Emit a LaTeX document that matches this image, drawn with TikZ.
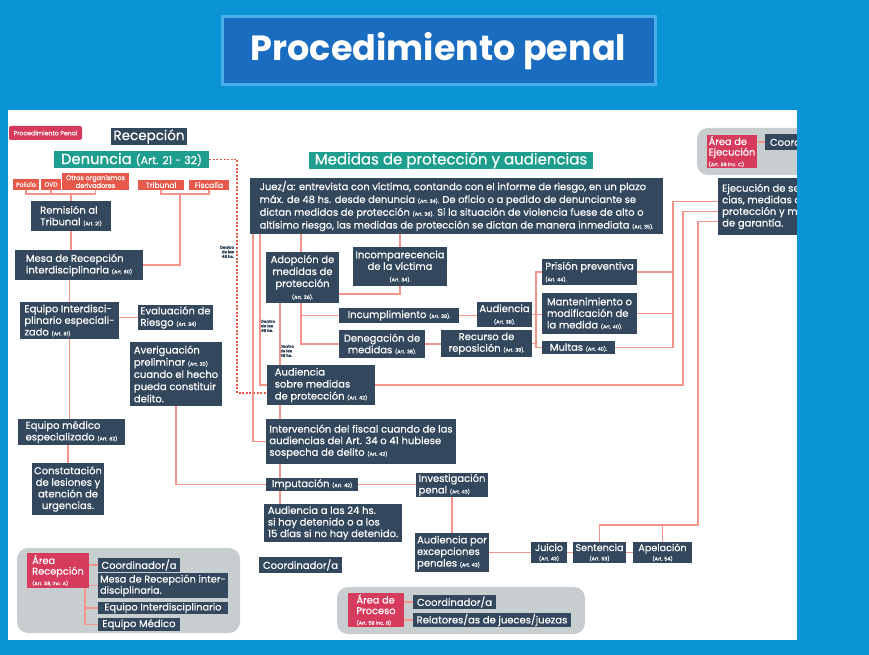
\documentclass[tikz,border=0pt]{standalone}
\usepackage{fontspec}
\setmainfont{Poppins}[FakeBold=0.4]
\newfontfamily\ttlfont{Poppins}
\usetikzlibrary{calc}
\definecolor{bgblue}{HTML}{0A94D6}
\definecolor{ttblue}{HTML}{1A6CC0}
\definecolor{ttedge}{HTML}{4AAEE8}
\definecolor{slate}{HTML}{33485C}
\definecolor{lnred}{HTML}{F4948A}
\definecolor{tagred}{HTML}{E5584A}
\definecolor{crim}{HTML}{D63A5C}
\definecolor{tealc}{HTML}{1E9E8E}
\definecolor{areagrey}{HTML}{C8CDD0}
\newcommand\fsz[2]{\fontsize{#1}{#2}\selectfont}
\newcommand\art[1]{{\fontsize{4.9}{5}\selectfont #1}}
\newcommand\mybox[7][]{%
  \pgfmathsetmacro\qw{#5-#3}%
  \pgfmathsetmacro\qh{#6-#4}%
  \node[box,minimum width=\qw pt,minimum height=\qh pt,#1] (#2) at ({(#3+#5)/2},{(#4+#6)/2}) {#7};}
\tikzset{
 box/.style={fill=slate,text=white,inner xsep=2pt,inner ysep=1pt,align=left,font=\fsz{10}{11.6}},
 redtag/.style={fill=tagred,font=\fsz{6}{6.4},align=center,inner xsep=1pt},
 crimbox/.style={fill=crim,font=\fsz{9.8}{10.6}},
 tealbox/.style={fill=tealc},
 area/.style={fill=areagrey,rounded corners=11pt},
 ln/.style={draw=lnred,line width=1.3pt},
 dsh/.style={draw=tagred,line width=1.1pt,dash pattern=on 2pt off 1.6pt},
 lbl/.style={font=\bfseries\fsz{4}{4.6},text=slate,inner sep=0pt}
}
\begin{document}
\begin{tikzpicture}[x=1pt,y=-1pt]
\useasboundingbox (0,0) rectangle (869,655);
\fill[bgblue] (0,0) rectangle (869,655);
\fill[white] (8,110) rectangle (797,640);
% title
\node[fill=ttblue,draw=ttedge,line width=3pt,minimum width=433pt,minimum height=68pt,text=white,font=\ttlfont\bfseries\fsz{35}{37}] (title) at (438.5,51) {Procedimiento penal};
% grey areas
\mybox[area]{areaE}{697}{128}{880}{175}{}
\mybox[area]{areaR}{17}{548}{240}{633}{}
\mybox[area]{areaP}{337}{587}{585}{634}{}
% header tags
\mybox[fill=crim,rounded corners=2pt,align=center,font=\fsz{6.2}{6.4}]{tag}{9}{126}{82}{140}{Procedimiento Penal}
\mybox[align=center,font=\fsz{13.5}{15}]{recep}{111}{128}{187}{145}{Recepción}
\mybox[tealbox,align=center,font=\fsz{14.8}{16}]{denuncia}{54}{151}{209}{168}{Denuncia {\fsz{11}{12}(Art. 21 - 32)}}
\mybox[tealbox,align=center,font=\fsz{15}{16}]{medidas}{309}{152}{593}{169}{Medidas de protección y audiencias}
% red tags
\mybox[redtag]{policia}{13}{179}{39}{190}{Policía}
\mybox[redtag]{ovd}{41}{179}{61}{190}{OVD}
\mybox[redtag,font=\fsz{6.6}{6.8}]{otros}{62}{173}{129}{190}{Otros organismos\\derivadores}
\mybox[redtag,font=\fsz{7.6}{8}]{tribunal}{138}{180}{184}{190}{Tribunal}
\mybox[redtag,font=\fsz{7.6}{8}]{fiscalia}{189}{180}{229}{190}{Fiscalía}
% left column
\mybox{remision}{31}{201}{111}{231}{Remisión al\\Tribunal \art{(Art. 21)}}
\mybox{mesa}{15}{250}{143}{280}{Mesa de Recepción\\interdisciplinaria \art{(Art. 60)}}
\mybox{eqint}{20}{302}{119}{339}{Equipo Interdisci-\\plinario especiali-\\zado \art{(Art. 61)}}
\mybox{evalr}{138}{305}{213}{330}{Evaluación de\\Riesgo \art{(Art. 34)}}
\mybox[font=\fsz{10}{12.2}]{aver}{130}{342}{222}{406}{Averiguación\\preliminar \art{(Art. 30)}\\cuando el hecho\\pueda constituir\\delito.}
\mybox{eqmed}{18}{419}{125}{445}{Equipo médico\\especializado \art{(Art. 62)}}
\mybox[align=center]{const}{32}{463}{104}{515}{Constatación\\de lesiones y\\atención de\\urgencias.}
% center
\mybox[font=\fsz{9.9}{12.8}]{juez}{250}{178}{663}{234}{Juez/a: entrevista con víctima, contando con el informe de riesgo, en un plazo\\máx. de 48 hs. desde denuncia \art{(Art. 34).} De oficio o a pedido de denunciante se\\dictan medidas de protección \art{(Art. 36).} Si la situación de violencia fuese de alto o\\altísimo riesgo, las medidas de protección se dictan de manera inmediata \art{(Art. 35).}}
\mybox[align=center,font=\fsz{10}{12}]{adop}{266}{252}{339}{303}{Adopción de\\medidas de\\protección\\\art{(Art. 36).}}
\mybox[align=center]{incomp}{356}{247}{444}{286}{Incomparecencia\\de la víctima\\\art{(Art. 34).}}
\mybox{incump}{339}{308}{459}{323}{Incumplimiento \art{(Art. 39).}}
\mybox[align=center]{deneg}{339}{330}{425}{358}{Denegación de\\medidas \art{(Art. 38).}}
\mybox[align=center]{audi39}{477}{302}{532}{327}{Audiencia\\\art{(Art. 39).}}
\mybox[align=center]{recurso}{441}{330}{532}{357}{Recurso de\\reposición \art{(Art. 39).}}
\mybox{prision}{542}{259}{637}{285}{Prisión preventiva\\\art{(Art. 44).}}
\mybox{mant}{542}{293}{637}{334}{Mantenimiento o\\modificación de\\la medida \art{(Art. 40).}}
\mybox{multas}{542}{341}{615}{354}{Multas \art{(Art. 40).}}
\mybox[font=\fsz{10}{12}]{audsm}{267}{365}{375}{405}{Audiencia\\sobre medidas\\de protección \art{(Art. 42)}}
\mybox{interv}{266}{419}{456}{464}{Intervención del fiscal cuando de las\\audiencias del Art. 34 o 41 hubiese\\sospecha de delito \art{(Art. 42)}}
\mybox{imput}{266}{479}{358}{490}{Imputación \art{(Art. 42)}}
\mybox{aud24}{264}{504}{402}{542}{Audiencia a las 24 hs.\\si hay detenido o a los\\15 días si no hay detenido.}
\mybox{invest}{416}{473}{488}{497}{Investigación\\penal \art{(Art. 43)}}
\mybox{audexc}{416}{533}{488}{572}{Audiencia por\\excepciones\\penales \art{(Art. 43)}}
\mybox{coord}{259}{557}{342}{573}{Coordinador/a}
\mybox[align=center,font=\fsz{9.6}{9.4}]{juicio}{531}{542}{567}{563}{Juicio\\\art{(Art. 43)}}
\mybox[align=center,font=\fsz{9.6}{9.4}]{sent}{573}{542}{626}{563}{Sentencia\\\art{(Art. 53)}}
\mybox[align=center,font=\fsz{9.6}{9.4}]{apel}{633}{542}{692}{563}{Apelación\\\art{(Art. 54)}}
% right
\mybox{ejec}{718}{178}{836}{235}{Ejecución de senten-\\cias, medidas de\\protección y medidas\\de garantía.}
\mybox[crimbox]{redE}{707}{135}{757}{168}{Área de\\Ejecución\\\art{(Art. 59 inc. C)}}
\mybox{coE}{765}{134}{850}{150}{Coordinador/a}
% area recepcion
\mybox[crimbox]{redR}{27}{553}{89}{588}{Área\\Recepción\\\art{(Art. 59, inc. A)}}
\mybox{coR}{98}{558}{180}{572}{Coordinador/a}
\mybox[font=\fsz{9.8}{11.2}]{mesaR}{98}{573}{228}{598}{Mesa de Recepción inter-\\disciplinaria.}
\mybox[font=\fsz{9.8}{11}]{eqR}{98}{602}{228}{614}{Equipo Interdisciplinario}
\mybox{medR}{98}{618}{180}{631}{Equipo Médico}
% area proceso
\mybox[crimbox]{redP}{348}{593}{404}{627}{Área de\\Proceso\\\art{(Art. 59 inc. B)}}
\mybox{coP}{413}{595}{496}{609}{Coordinador/a}
\mybox{relP}{413}{613}{571}{627}{Relatores/as de jueces/juezas}
% labels
\node[lbl,align=right] (l1) at (227,252) {Dentro\\de las\\48 hs.};
\node[lbl,align=left] (l2) at (268,326) {Dentro\\de las\\48 hs.};
\node[lbl,align=left] (l3) at (287,351) {Dentro\\de las\\48 hs.};
% helper coordinates
\coordinate (b1) at (70,194);
\coordinate (b2) at (180,194);
\coordinate (d1) at (237,393);
\coordinate (xa) at (253,0);
\coordinate (xb) at (260,0);
\coordinate (xc) at (301,0);
\coordinate (xd) at (400,294);
\coordinate (xe) at (280,0);
\coordinate (k) at (536,0);
\coordinate (r1) at (673,0);
\coordinate (r2) at (683,0);
\coordinate (s1) at (698,525);
\coordinate (v) at (85,0);
\coordinate (e1) at ($(ejec.north west)+(0,24)$);
\coordinate (e2) at ($(ejec.north west)+(0,34)$);
\coordinate (e3) at ($(ejec.north west)+(0,44)$);
% connectors
\draw[dsh] (denuncia.east) -| (d1) -- (d1 -| audsm.west);
\draw[ln] (policia.south) -- (policia.south |- b1) -- (otros.south |- b1) -- (otros.south);
\draw[ln] (ovd.south) -- (ovd.south |- b1);
\draw[ln] (remision.north |- b1) -- (remision.north);
\draw[ln] (tribunal.south) -- (tribunal.south |- b2) -- (fiscalia.south |- b2) -- (fiscalia.south);
\draw[ln] (b2) |- (mesa.east);
\draw[ln] (remision.south) -- (remision.south |- mesa.north);
\draw[ln] (mesa.south -| eqint.north) -- (eqint.north);
\draw[ln] (eqint.east |- evalr.west) -- (evalr.west);
\draw[ln] (eqint.south) -- (eqint.south |- eqmed.north);
\draw[ln] (const.north |- eqmed.south) -- (const.north);
\draw[ln] (aver.south) |- (imput.west);
\draw[ln] (juez.south -| xa) |- (interv.west);
\draw[ln] (juez.south -| xb) |- (audsm.west);
\draw[ln] (juez.south -| xc) -- (adop.north -| xc);
\draw[ln] (juez.south -| xd) -- (incomp.north -| xd);
\draw[ln] (incomp.south -| xd) -- (xd) -- (adop.east |- xd);
\draw[ln] (adop.south -| xc) |- (deneg.west);
\draw[ln] (incump.west -| xc) -- (incump.west);
\draw[ln] (adop.south -| xe) -- (audsm.north -| xe);
\draw[ln] (audsm.south -| xe) -- (interv.north -| xe);
\draw[ln] (interv.south -| xe) -- (imput.north -| xe);
\draw[ln] (imput.south -| xe) -- (aud24.north -| xe);
\draw[ln] (imput.east) -- (imput.east -| invest.west);
\draw[ln] (invest.south) -- (audexc.north);
\draw[ln] (audexc.east |- juicio.west) -- (juicio.west);
\draw[ln] (juicio.east) -- (sent.west);
\draw[ln] (sent.east) -- (apel.west);
\draw[ln] (incump.east) -- (incump.east -| audi39.west);
\draw[ln] (deneg.east) -- (deneg.east -| recurso.west);
\draw[ln] (prision.west) -- (prision.west -| k) -- (multas.west -| k) -- (multas.west);
\draw[ln] (audi39.east) -- (audi39.east -| mant.west);
\draw[ln] (recurso.east) -- (recurso.east -| k);
\draw[ln] (prision.east) -- (prision.east -| r1);
\draw[ln] (mant.east) -- (mant.east -| r1);
\draw[ln] (multas.east) -| (e1 -| r1) -- (e1);
\draw[ln] (audsm.east) -| (e2 -| r2) -- (e2);
\draw[ln] (sent.north) |- (s1) |- (e3);
\draw[ln] (apel.north) -- (apel.north |- s1);
\draw[ln] (redE.east |- coE.west) -- (coE.west);
\draw[ln] (redR.east |- coR.west) -- (coR.west);
\draw[ln] (redR.east |- mesaR.west) -- (mesaR.west);
\draw[ln] (redR.south -| v) |- (medR.west);
\draw[ln] (eqR.west -| v) -- (eqR.west);
\draw[ln] (redP.east |- coP.west) -- (coP.west);
\draw[ln] (redP.east |- relP.west) -- (relP.west);
% right border strip
\fill[bgblue] (797,100) rectangle (869,655);
\end{tikzpicture}
\end{document}
